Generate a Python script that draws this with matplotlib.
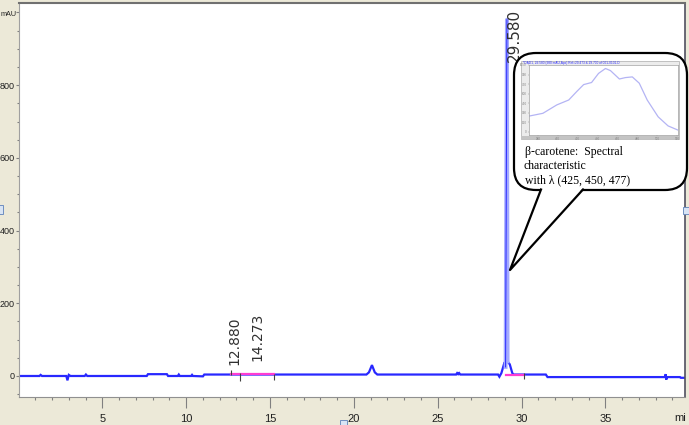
import numpy as np
import matplotlib.pyplot as plt
from matplotlib.patches import FancyBboxPatch, Polygon, Rectangle

plt.rcParams['font.family'] = ['Liberation Sans', 'DejaVu Sans']

# chromatogram trace: retention time (min) and signal (mAU)
trace_time = [0.0, 1.25, 1.32, 1.40, 2.85, 2.92, 3.00, 3.10, 3.95, 4.02, 4.10,
              7.65, 7.72, 8.85, 8.92, 9.50, 9.56, 9.62, 10.30, 10.35, 10.40,
              11.00, 11.08, 20.75, 20.90, 21.08, 21.25, 21.40,
              26.10, 26.16, 26.22, 26.28, 26.35, 28.60, 28.68, 28.80, 28.95, 29.00, 29.05,
              29.13, 29.17, 29.30, 29.45, 29.52, 31.45, 31.55, 38.55, 38.60, 38.63, 38.68,
              39.45, 39.50, 39.80]
trace_mau = [0, 0, 3, 0, 0, -12, 3, 0, 0, 4, 0,
             0, 5, 5, 0, 0, 4, 0, 0, 3, 0,
             -1, 4, 4, 10, 30, 10, 4,
             4, 8, 5, 8, 4, 4, -2, 8, 32, 38, 25,
             980, 40, 32, 8, 4, 4, -3, -3, 5, -10, -3,
             -3, -5, -5]

# main peak (drawn over the trace in light blue)
main_peak_time = [29.05, 29.13, 29.17]
main_peak_mau = [25, 980, 40]

# integration baselines and marks
base_start = [12.65, 29.10]
base_end = [15.21, 30.12]
base_level = [4.5, 3.5]
mark_time = [12.65, 13.24, 15.21, 30.12]
mark_low = [4, -13, -10, -9]
mark_high = [17, 8, 5, 8]

# peak labels
label_time = [12.880, 14.273, 29.580]
label_text = ["12.880", "14.273", "29.580"]
label_base = [30, 41, 864]

# UV-vis spectrum of the main peak (inset)
spec_wl = [371, 385, 399, 411, 419, 426, 434, 441, 448, 453, 462, 468, 475, 482,
           490, 501, 511, 521]
spec_abs = [247, 291, 423, 500, 632, 742, 775, 918, 995, 962, 830, 852, 863, 764,
            500, 236, 93, 27]

x_ticks = [5, 10, 15, 20, 25, 30, 35]
y_ticks = [0, 200, 400, 600, 800, 1000]
y_tick_labels = ["0", "200", "400", "600", "800", ""]

BLUE = '#2828ff'
PINK = '#ff3cd2'
BG = '#ece9d8'

fig = plt.figure(figsize=(6.89, 4.25), dpi=100, facecolor=BG)
ax = fig.add_axes([18.5 / 689, 28 / 425, 666.5 / 689, 394 / 425])
ax.set_facecolor('white')

ax.plot(trace_time, trace_mau, color=BLUE, lw=1.6, solid_joinstyle='miter')
ax.plot(main_peak_time, main_peak_mau, color='#a4aaff', lw=2.8)
ax.plot(main_peak_time[:2], main_peak_mau[:2], color=BLUE, lw=0.7)
for s, e, lv in zip(base_start, base_end, base_level):
    ax.plot([s, e], [lv, lv], color=PINK, lw=1.6)
ax.vlines(mark_time, mark_low, mark_high, color='#404040', lw=0.8)

for t, txt, b in zip(label_time, label_text, label_base):
    fs = 11 if b > 500 else 10
    ax.text(t, b, txt, rotation=90, ha='center', va='bottom', fontsize=fs,
            color='#303030', family=['DejaVu Sans'])

ax.set_xlim(0, 39.75)
ax.set_ylim(-57.8, 1026)
ax.set_xticks(x_ticks)
ax.set_xticks(np.arange(1, 40), minor=True)
ax.set_yticks(y_ticks)
ax.set_yticklabels(y_tick_labels)
ax.set_yticks(np.arange(-50, 1001, 50), minor=True)

ax.tick_params(axis='x', which='major', length=8, width=0.8, pad=4.5,
               labelsize=8, colors='#808080', labelcolor='#202020')
ax.tick_params(axis='x', which='minor', length=2.2, width=0.8, colors='#808080')
ax.tick_params(axis='y', which='major', length=2, width=0.8, pad=0.6,
               labelsize=6.5, colors='#808080', labelcolor='#202020')
ax.tick_params(axis='y', which='minor', length=1.2, width=0.8, colors='#808080')

ax.spines['left'].set_color('#a0a0a0')
ax.spines['bottom'].set_color('#909090')
ax.spines['top'].set_color('#707070')
ax.spines['top'].set_linewidth(1.5)
ax.spines['right'].set_color('#505060')
ax.spines['right'].set_linewidth(1.2)

# pixel-space overlay for the call-out bubble and window bits
ov = fig.add_axes([0, 0, 1, 1], zorder=5)
ov.set_xlim(0, 689)
ov.set_ylim(425, 0)
ov.axis('off')
ov.patch.set_alpha(0)

ov.text(0.5, 14, "mAU", fontsize=5.2, color='#202020', ha='left', va='center')

ov.add_patch(FancyBboxPatch((514, 53), 173, 137,
                            boxstyle="round,pad=0,rounding_size=22",
                            fc='white', ec='black', lw=1.6))
ov.add_patch(Polygon([(541, 188), (510, 270), (583, 188)], closed=True,
                     fc='white', ec='none'))
ov.plot([541, 510, 583], [189.5, 270, 189.5], color='black', lw=1.6)

ov.add_patch(Rectangle((521, 61), 158, 78, fc='#ececec', ec='#b8b8b8', lw=0.6))
ov.add_patch(Rectangle((521, 136), 158, 3, fc='#c4c4c4', ec='none'))
ov.text(523, 63, "*DAD1, 29.580 (980 mAU,Apx) Ref=29.473 & 29.700 of 001-0101.D",
        fontsize=2.3, color='#3030ff', va='center', ha='left')

serif = ['Liberation Serif', 'DejaVu Serif']
ov.text(525, 152, "\u03b2-carotene:  Spectral", fontsize=8.5, family=serif,
        va='center', ha='left')
ov.text(523, 166, "characteristic", fontsize=8.5, family=serif,
        va='center', ha='left')
ov.text(525, 180, "with \u03bb (425, 450, 477)", fontsize=8.5, family=serif,
        va='center', ha='left')

ov.text(680, 418, "mi", fontsize=8, color='#202020', ha='center', va='center')

for rx, ry, rw, rh in [(-2, 205, 5, 9), (683, 207, 7, 7), (340, 420, 7, 7)]:
    ov.add_patch(Rectangle((rx, ry), rw, rh, fc='#d8e4f4', ec='#6f8fc0', lw=0.7))

# inset spectrum
ins = fig.add_axes([529 / 689, (425 - 135) / 425, 149 / 689, 70 / 425], zorder=6)
ins.plot(spec_wl, spec_abs, color='#b4b4f4', lw=0.9)
ins.set_xlim(371, 521)
ins.set_ylim(-50, 1050)
ins.set_xticks(np.arange(380, 521, 20))
ins.set_yticks(np.arange(0, 1051, 150))
ins.tick_params(labelsize=2.2, length=1, width=0.3, pad=0.8, colors='#808080')
for sp in ins.spines.values():
    sp.set_color('#a0a0a0')
    sp.set_linewidth(0.5)

fig.savefig('out.png', dpi=100, facecolor=BG)
